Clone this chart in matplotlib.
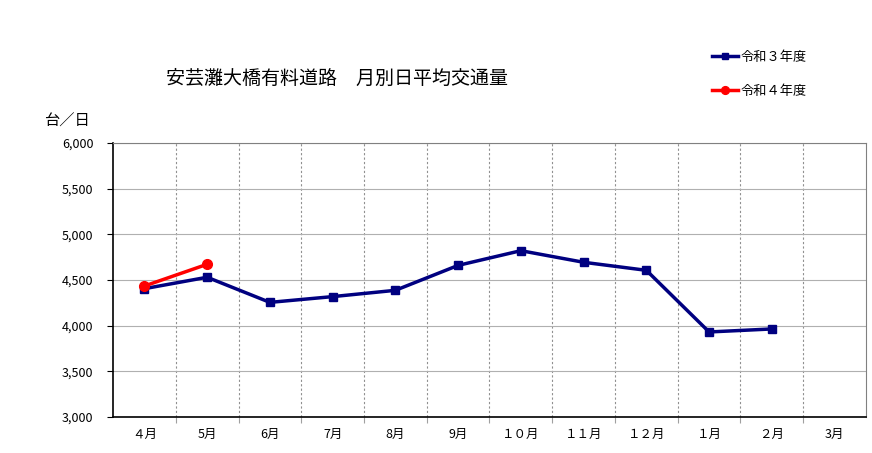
import matplotlib.pyplot as plt
from matplotlib.ticker import FuncFormatter, FixedLocator, NullFormatter

plt.rcParams['font.family'] = ['Noto Sans CJK JP', 'DejaVu Sans']

months = ['４月', '5月', '6月', '7月', '8月', '9月', '１０月', '１１月', '１２月', '１月', '２月', '3月']
r3 = [4405, 4530, 4255, 4318, 4387, 4660, 4821, 4694, 4606, 3931, 3964]
r4 = [4434, 4672]

fig = plt.figure(figsize=(8.72, 4.53), dpi=100)
ax = fig.add_axes([0.1296, 0.0795, 0.8635, 0.6048])

x3 = list(range(len(r3)))
x4 = list(range(len(r4)))
ax.plot(x3, r3, color='#000080', lw=2.5, marker='s', ms=6, label='令和３年度', zorder=3)
ax.plot(x4, r4, color='#ff0000', lw=2.5, marker='o', ms=7, label='令和４年度', zorder=4)

ax.set_xlim(-0.5, len(months) - 0.5)
ax.set_ylim(3000, 6000)
ax.set_yticks(range(3000, 6001, 500))
ax.yaxis.set_major_formatter(FuncFormatter(lambda v, p: f'{int(v):,}'))
ax.grid(axis='y', color='#b0b0b0', lw=0.8)

# month labels centered, ticks/grid at boundaries
ax.xaxis.set_major_locator(FixedLocator([i + 0.5 for i in range(len(months) - 1)]))
ax.xaxis.set_major_formatter(NullFormatter())
ax.xaxis.set_minor_locator(FixedLocator(list(range(len(months)))))
ax.set_xticklabels(months, minor=True)
ax.tick_params(axis='x', which='minor', length=0, pad=8, labelsize=9)
ax.tick_params(axis='x', which='major', length=4, direction='out', color='#a0a0a0')
ax.grid(axis='x', which='major', color='#909090', lw=0.8, ls=(0, (2, 2)))
ax.tick_params(axis='y', length=4, direction='out', pad=10, labelsize=9)

ax.spines['top'].set_color('#808080')
ax.spines['right'].set_color('#808080')
ax.spines['left'].set_linewidth(1.2)
ax.spines['bottom'].set_linewidth(1.2)

fig.text(0.387, 0.828, '安芸灘大橋有料道路\u3000月別日平均交通量', ha='center', va='center', fontsize=13.7)
fig.text(0.051, 0.733, '台／日', ha='left', va='center', fontsize=11)

leg = fig.legend(loc='upper left', bbox_to_anchor=(0.81, 0.9), frameon=False,
                 fontsize=9.5, handlelength=2.0, handletextpad=0.2, labelspacing=1.6,
                 borderaxespad=0, markerscale=0.8)

fig.savefig('out.png', dpi=100)
